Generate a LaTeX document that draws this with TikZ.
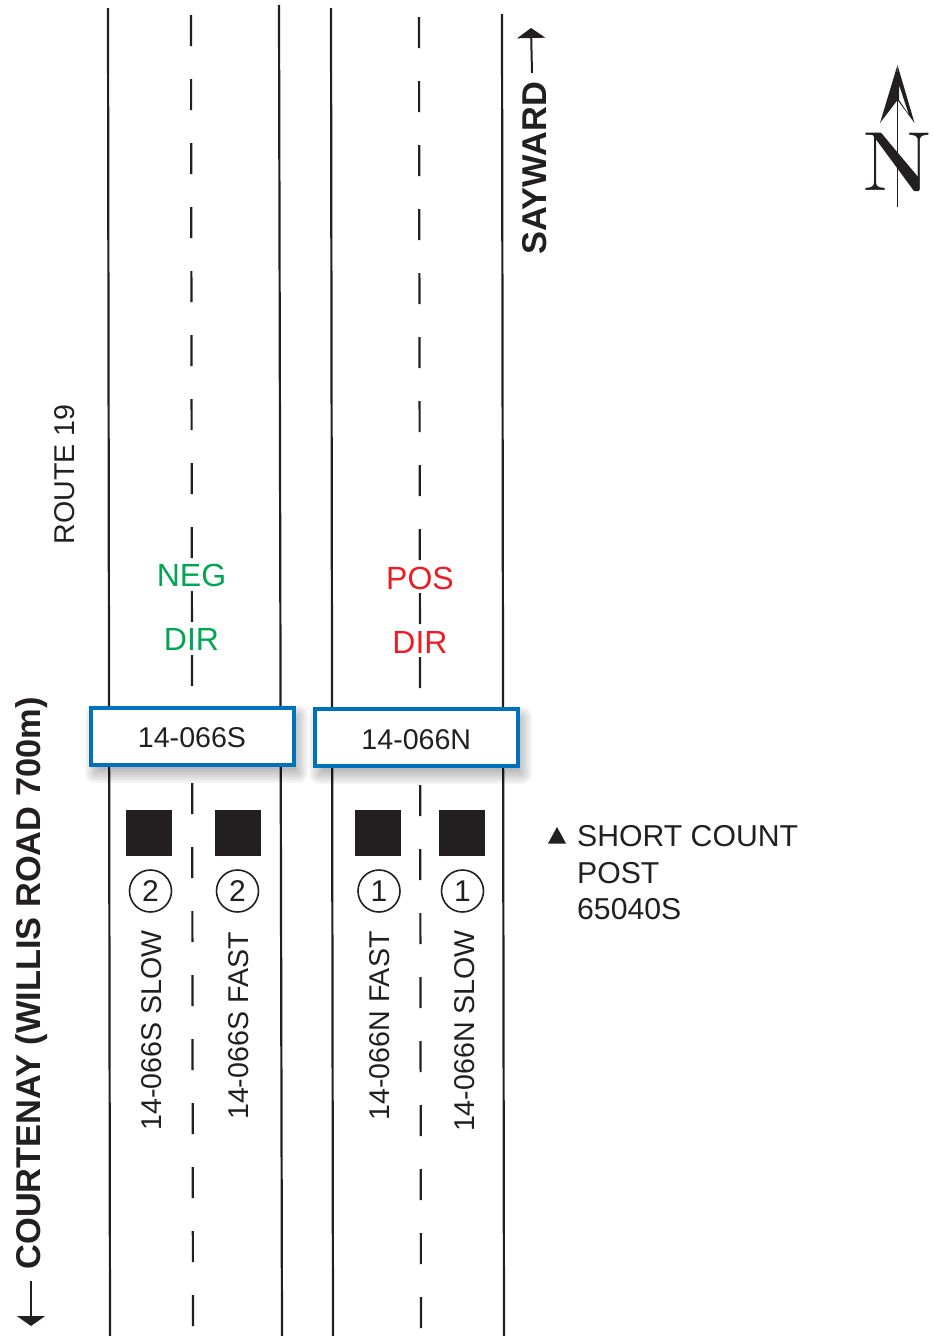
\documentclass[tikz,border=0pt]{standalone}
\usepackage{fontspec}
\usetikzlibrary{arrows.meta}
\newfontfamily\arial{Liberation Sans}
\definecolor{ink}{HTML}{231F20}
\definecolor{boxblue}{HTML}{0072BC}
\definecolor{neggreen}{HTML}{00A651}
\definecolor{posred}{HTML}{ED1C24}
\tikzset{
  road/.style={ink,line width=2.2pt},
  centre/.style={ink,line width=2.2pt,dash pattern=on 31pt off 33pt},
  sensor/.style={fill=ink,draw=none,minimum size=46pt,inner sep=0pt,outer sep=0pt},
  lanenum/.style={circle,draw=ink,line width=1.6pt,minimum size=42pt,inner sep=0pt,text=ink,font=\arial\fontsize{30}{30}\selectfont},
  label/.style={text=ink,inner sep=0pt,font=\arial\fontsize{28.6}{29}\selectfont},
  vlabel/.style={label,rotate=90},
  dirlabel/.style={inner sep=0pt,font=\arial\fontsize{32}{32}\selectfont},
  postlabel/.style={text=ink,inner sep=0pt,anchor=west,font=\arial\fontsize{30.2}{30}\selectfont},
  blabel/.style={text=ink,inner sep=0pt,rotate=90,font=\arial\bfseries\fontsize{34.4}{35}\selectfont},
  stationbox/.style={draw=boxblue,fill=white,line width=4pt,minimum width=203pt,minimum height=57pt,inner sep=0pt,text=ink,font=\arial\fontsize{28.6}{29}\selectfont},
  pointer/.style={draw=ink,line width=2pt,-{Triangle[width=28pt,length=10pt,fill=ink]}},
}
\begin{document}
\begin{tikzpicture}[x=1pt,y=-1pt]
\useasboundingbox (0,0) rectangle (933,1336);
% roadway
\draw[road] (108,8) -- (110,1336);
\draw[road] (279,5) -- (282,1336);
\draw[road] (331,8) -- (333,1336);
\draw[road] (502,14) -- (504,1336);
\draw[centre] (191,15) -- (193,1336);
\draw[centre] (419,17) -- (421,1336);
% station boxes with soft shadows
\foreach \g in {-6,-4,...,10}{
  \fill[black,opacity=0.04,rounded corners={max(\g,0)*1pt}]
    ({91+4-\g},{707+8-\g}) rectangle ({294+4+\g},{765+8+\g});
  \fill[black,opacity=0.04,rounded corners={max(\g,0)*1pt}]
    ({315+4-\g},{709+8-\g}) rectangle ({518+4+\g},{766+8+\g});
}
\node[stationbox] (bs) at (192.5,736) {};
\node[stationbox] (bn) at (416.5,737.5) {};
\node[label] (ts) at (192,738) {14-066S};
\node[label] (tn) at (416.3,739.5) {14-066N};
% direction labels
\node[dirlabel,text=neggreen] (neg) at (191.5,575) {NEG};
\node[dirlabel,text=neggreen] (negd) at (191.5,639) {DIR};
\node[dirlabel,text=posred] (pos) at (420,578) {POS};
\node[dirlabel,text=posred] (posd) at (420,642) {DIR};
% sensors
\node[sensor] (s1) at (149,832.5) {};
\node[sensor] (s2) at (238,832.5) {};
\node[sensor] (s3) at (378,832.5) {};
\node[sensor] (s4) at (462,832.5) {};
\node[lanenum] (c1) at (150.5,891) {2};
\node[lanenum] (c2) at (237.5,891) {2};
\node[lanenum] (c3) at (379,891) {1};
\node[lanenum] (c4) at (462.5,891) {1};
\node[vlabel] (l1) at (152,1030.5) {14-066S SLOW};
\node[vlabel] (l2) at (239,1026) {14-066S FAST};
\node[vlabel] (l3) at (380,1026) {14-066N FAST};
\node[vlabel] (l4) at (465,1031) {14-066N SLOW};
% place names
\node[vlabel] (route) at (65,474.5) {ROUTE 19};
\node[blabel] (say) at (535,168.5) {SAYWARD};
\node[blabel] (court) at (31.5,983.5) {COURTENAY (WILLIS ROAD 700m)};
\coordinate (sa) at (532,73);
\coordinate (sb) at (531,28);
\coordinate (ca) at (31,1281);
\coordinate (cb) at (31,1326);
\draw[pointer] (sa) -- (sb);
\draw[pointer] (ca) -- (cb);
% short count
\fill[ink] (548,843.5) -- (557,827) -- (566,843.5) -- cycle;
\node[postlabel] (p1) at (577,836) {SHORT COUNT};
\node[postlabel] (p2) at (577,873) {POST};
\node[postlabel] (p3) at (577,909) {65040S};
% north arrow
\draw[ink,line width=1.6pt] (897.5,72) -- (897.5,207);
\fill[ink] (897.5,65) -- (880,123) -- (897.5,100) -- cycle;
\fill[ink,even odd rule] (897.5,65) -- (914.5,123) -- (897.5,100) -- cycle
   (899,85) -- (909,115) -- (899,100) -- cycle;
\node[text=ink,inner sep=0pt,anchor=center,xscale=1.27,font=\fontsize{84}{84}\selectfont] (north) at (897.5,161.5) {N};
\fill[ink] (872,134) -- (882,134) -- (919,178) -- (919,191) -- (914,191) -- cycle;
\end{tikzpicture}
\end{document}
